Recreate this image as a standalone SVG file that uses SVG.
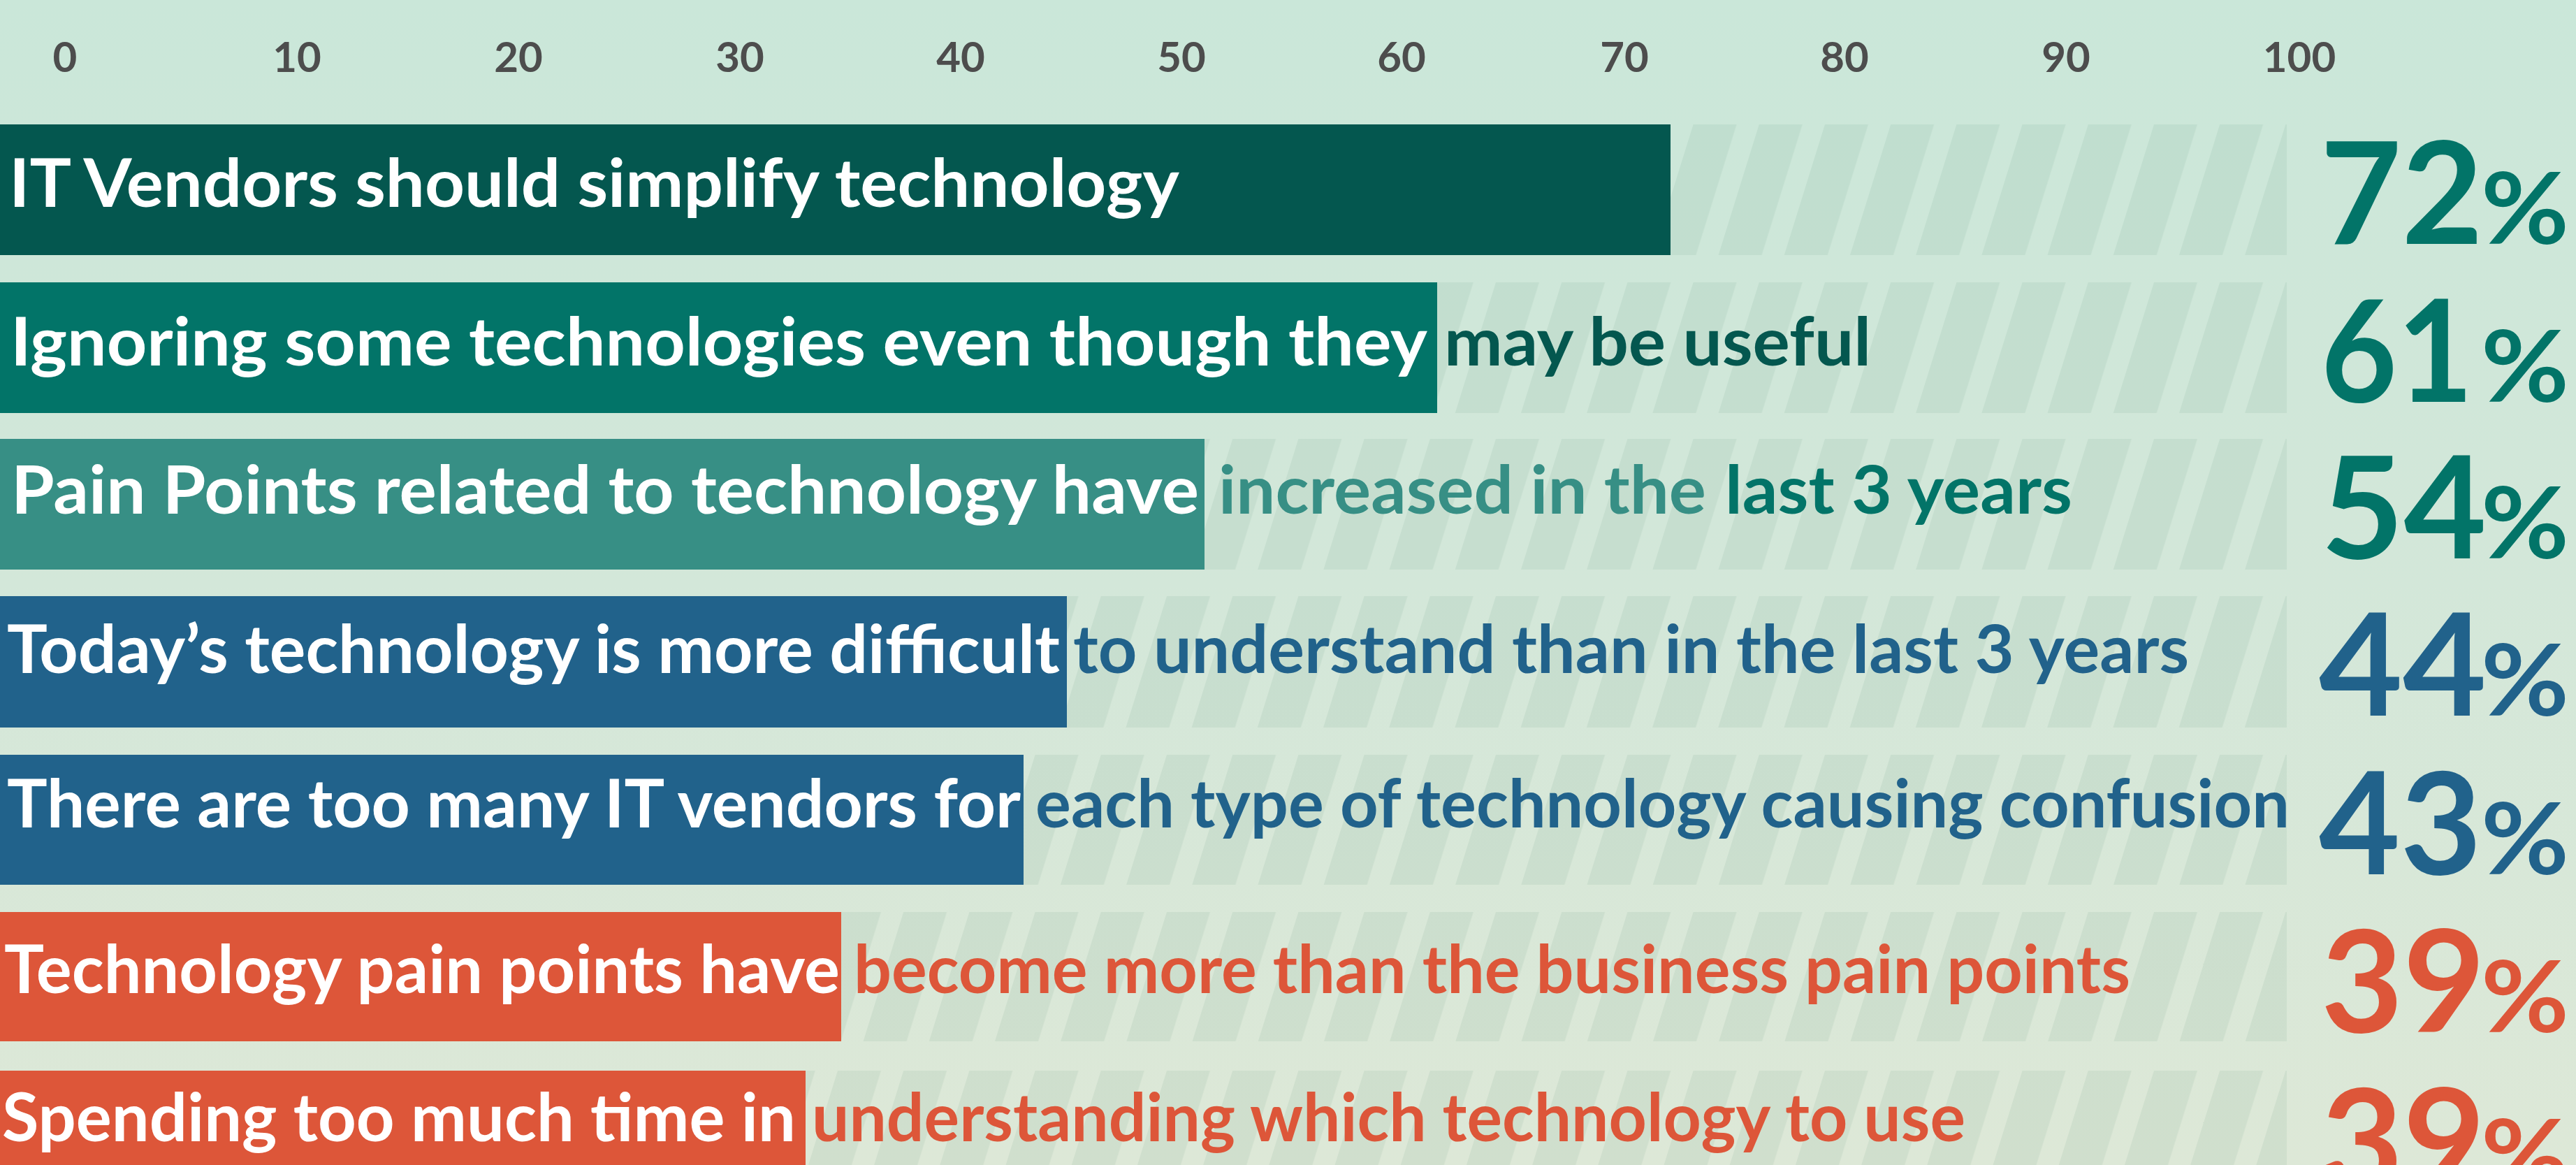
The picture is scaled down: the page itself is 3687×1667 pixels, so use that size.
<svg xmlns="http://www.w3.org/2000/svg" width="3687" height="1667" viewBox="0 0 3687 1667">
<style>
.ax{font-family:Lato,"Liberation Sans",sans-serif;font-weight:700;font-size:60px;fill:#4d4d4d;text-anchor:middle}
.lb{font-family:Lato,"Liberation Sans",sans-serif;font-weight:700;font-size:96px}
.w{fill:#ffffff}
.pc{font-family:Lato,"Liberation Sans",sans-serif;font-weight:700;font-size:204px}
.ps{font-family:Lato,"Liberation Sans",sans-serif;font-weight:700;font-size:142px}
.c1{fill:#04574f}
.c2{fill:#027468}
.c3{fill:#378f85}
.cb{fill:#21628b}
.co{fill:#dd5639}
.st{fill:url(#stripes)}
</style>
<defs>
<linearGradient id="bg" x1="0" y1="0" x2="0" y2="1">
<stop offset="0" stop-color="#cae7d9"/>
<stop offset="0.5" stop-color="#d3e7d9"/>
<stop offset="1" stop-color="#dde8d7"/>
</linearGradient>
<pattern id="stripes" patternUnits="userSpaceOnUse" x="68.6" y="0" width="94.2" height="200" patternTransform="skewX(-17.3)">
<rect x="0" y="0" width="62" height="200" fill="#2e6e56" fill-opacity="0.08"/>
</pattern>
</defs>
<rect x="0" y="0" width="3687" height="1667" fill="url(#bg)"/>
<g id="axis">
<text class="ax" x="93" y="103">0</text>
<text class="ax" x="425" y="103">10</text>
<text class="ax" x="742" y="103">20</text>
<text class="ax" x="1059" y="103">30</text>
<text class="ax" x="1375" y="103">40</text>
<text class="ax" x="1691" y="103">50</text>
<text class="ax" x="2006" y="103">60</text>
<text class="ax" x="2325" y="103">70</text>
<text class="ax" x="2640" y="103">80</text>
<text class="ax" x="2957" y="103">90</text>
<text class="ax" x="3291" y="103">100</text>
</g>
<g id="row1" transform="translate(0,178)">
<rect class="st" x="0" y="0" width="3273" height="187"/>
<rect class="c1" x="0" y="0" width="2391" height="187"/>
<text class="lb w" x="13" y="118" textLength="1675" lengthAdjust="spacingAndGlyphs">IT Vendors should simplify technology</text>
<text class="pc c2" x="3321" y="171" textLength="233" lengthAdjust="spacingAndGlyphs">72</text>
<text class="ps c2" x="3551" y="171" textLength="126" lengthAdjust="spacingAndGlyphs">%</text>
</g>
<g id="row2" transform="translate(0,404)">
<rect class="st" x="0" y="0" width="3273" height="187"/>
<rect class="c2" x="0" y="0" width="2057" height="187"/>
<text class="lb w" x="15" y="119" textLength="2028" lengthAdjust="spacingAndGlyphs">Ignoring some technologies even though they</text>
<text class="lb c1" x="2067" y="119" textLength="611" lengthAdjust="spacingAndGlyphs">may be useful</text>
<text class="pc c2" x="3322" y="171" textLength="218" lengthAdjust="spacingAndGlyphs">61</text>
<text class="ps c2" x="3551" y="171" textLength="126" lengthAdjust="spacingAndGlyphs">%</text>
</g>
<g id="row3" transform="translate(0,628)">
<rect class="st" x="0" y="0" width="3273" height="187"/>
<rect class="c3" x="0" y="0" width="1724" height="187"/>
<text class="lb w" x="16" y="107" textLength="1700" lengthAdjust="spacingAndGlyphs">Pain Points related to technology have</text>
<text class="lb c3" x="1744" y="107" textLength="698" lengthAdjust="spacingAndGlyphs">increased in the</text>
<text class="lb c2" x="2469" y="107" textLength="497" lengthAdjust="spacingAndGlyphs">last 3 years</text>
<text class="pc c2" x="3322" y="171" textLength="237" lengthAdjust="spacingAndGlyphs">54</text>
<text class="ps c2" x="3551" y="171" textLength="126" lengthAdjust="spacingAndGlyphs">%</text>
</g>
<g id="row4" transform="translate(0,853)">
<rect class="st" x="0" y="0" width="3273" height="188"/>
<rect class="cb" x="0" y="0" width="1527" height="188"/>
<text class="lb w" x="10" y="110" textLength="1507" lengthAdjust="spacingAndGlyphs">Today’s technology is more difficult</text>
<text class="lb cb" x="1536" y="110" textLength="1597" lengthAdjust="spacingAndGlyphs">to understand than in the last 3 years</text>
<text class="pc cb" x="3319" y="171" textLength="240" lengthAdjust="spacingAndGlyphs">44</text>
<text class="ps cb" x="3551" y="171" textLength="126" lengthAdjust="spacingAndGlyphs">%</text>
</g>
<g id="row5" transform="translate(0,1080)">
<rect class="st" x="0" y="0" width="3273" height="186"/>
<rect class="cb" x="0" y="0" width="1465" height="186"/>
<text class="lb w" x="10" y="104" textLength="1451" lengthAdjust="spacingAndGlyphs">There are too many IT vendors for</text>
<text class="lb cb" x="1482" y="104" textLength="1795" lengthAdjust="spacingAndGlyphs">each type of technology causing confusion</text>
<text class="pc cb" x="3319" y="171" textLength="233" lengthAdjust="spacingAndGlyphs">43</text>
<text class="ps cb" x="3551" y="171" textLength="126" lengthAdjust="spacingAndGlyphs">%</text>
</g>
<g id="row6" transform="translate(0,1305)">
<rect class="st" x="0" y="0" width="3273" height="185"/>
<rect class="co" x="0" y="0" width="1204" height="185"/>
<text class="lb w" x="6" y="116" textLength="1196" lengthAdjust="spacingAndGlyphs">Technology pain points have</text>
<text class="lb co" x="1222" y="116" textLength="1827" lengthAdjust="spacingAndGlyphs">become more than the business pain points</text>
<text class="pc co" x="3322" y="172" textLength="235" lengthAdjust="spacingAndGlyphs">39</text>
<text class="ps co" x="3551" y="172" textLength="126" lengthAdjust="spacingAndGlyphs">%</text>
</g>
<g id="row7" transform="translate(0,1532)">
<rect class="st" x="0" y="0" width="3273" height="187"/>
<rect class="co" x="0" y="0" width="1153" height="187"/>
<text class="lb w" x="3" y="101" textLength="1136" lengthAdjust="spacingAndGlyphs">Spending too much time in</text>
<text class="lb co" x="1162" y="101" textLength="1651" lengthAdjust="spacingAndGlyphs">understanding which technology to use</text>
<text class="pc co" x="3322" y="172" textLength="235" lengthAdjust="spacingAndGlyphs">39</text>
<text class="ps co" x="3551" y="172" textLength="126" lengthAdjust="spacingAndGlyphs">%</text>
</g>
</svg>
